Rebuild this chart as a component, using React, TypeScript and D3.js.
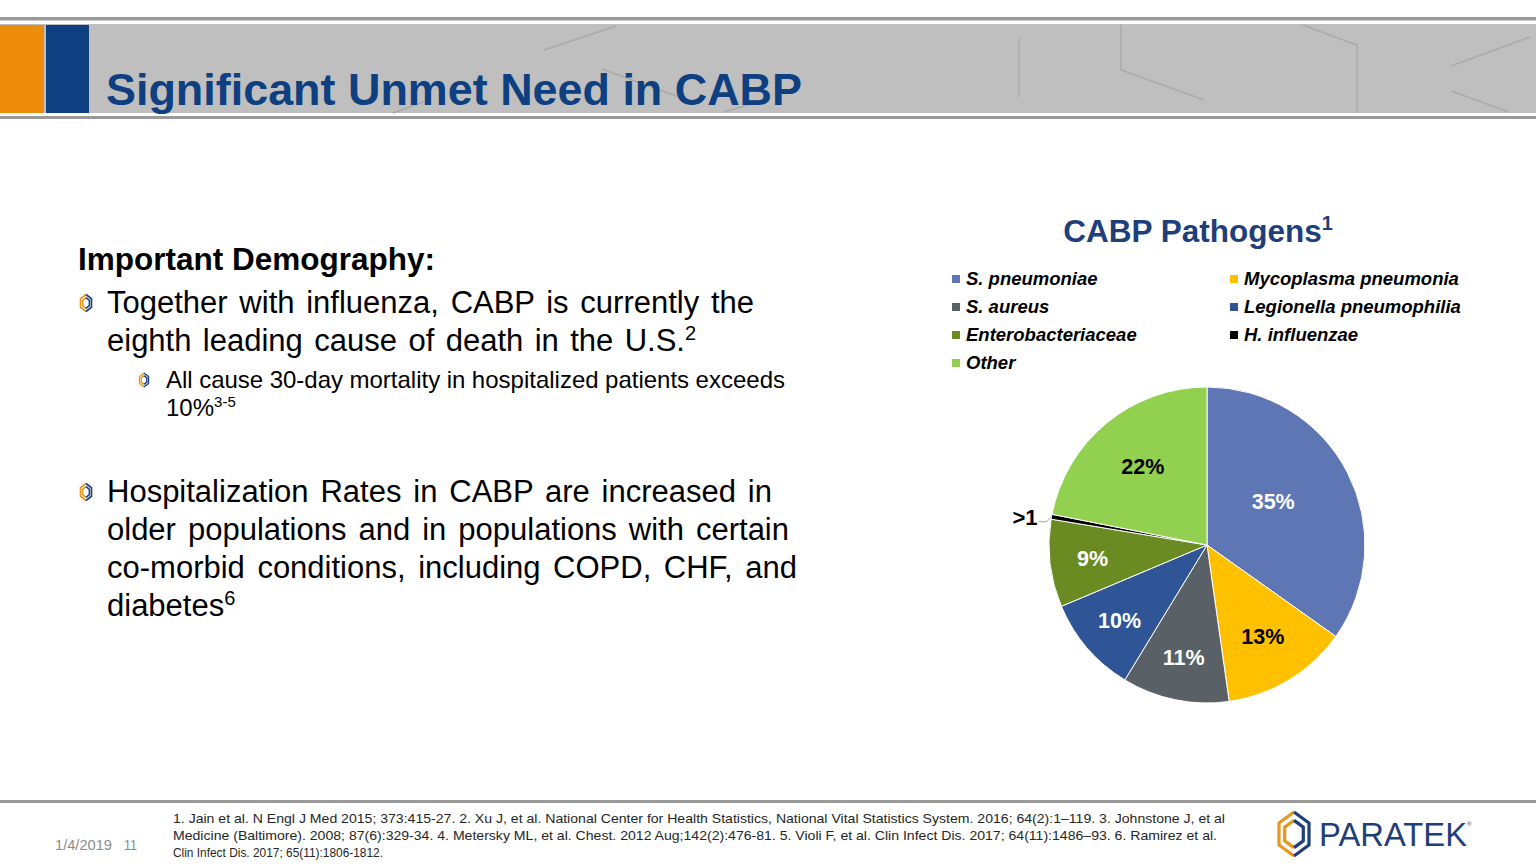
import React, { useLayoutEffect, useRef } from "react";
import * as d3 from "d3";

const categories = [
  "S. pneumoniae",
  "Mycoplasma pneumonia",
  "S. aureus",
  "Legionella pneumophilia",
  "Enterobacteriaceae",
  "H. influenzae",
  "Other",
];
const values = [35, 13, 11, 10, 9, 0.5, 22];
const sliceLabels = ["35%", "13%", "11%", "10%", "9%", ">1", "22%"];
const colors = ["#5E76B4", "#FFC000", "#5A6166", "#2F5597", "#6A8B22", "#000000", "#92D050"];
const labelColors = ["#fff", "#000", "#fff", "#fff", "#fff", "#000", "#000"];

const references = [
  "1. Jain et al. N Engl J Med 2015; 373:415-27.  2. Xu J, et al. National Center for Health Statistics, National Vital Statistics System. 2016; 64(2):1\u2013119. 3. Johnstone J, et al",
  "Medicine (Baltimore). 2008; 87(6):329-34. 4. Metersky ML, et al. Chest. 2012 Aug;142(2):476-81. 5. Violi F, et al. Clin Infect Dis. 2017; 64(11):1486\u201393. 6. Ramirez et al.",
  "Clin Infect Dis. 2017; 65(11):1806-1812.",
];

const headerLines = [
  [[544, 50], [616, 26]],
  [[602, 69], [679, 97]],
  [[393, 113], [429, 100]],
  [[724, 112], [765, 100]],
  [[1019, 38], [1019, 97]],
  [[1121, 25], [1121, 70], [1204, 100]],
  [[1303, 25], [1357, 45], [1357, 113]],
  [[1451, 66], [1530, 37]],
  [[1451, 91], [1509, 112]],
];

const FONT = "Arial, 'Liberation Sans', Helvetica, sans-serif";

function HexIcon({ cx, cy, w, h, sw }: { cx: number; cy: number; w: number; h: number; sw: number }) {
  const half = (ww: number, hh: number, side: number) => {
    const x0 = cx;
    const xs = cx + side * ww / 2;
    return `M${x0},${cy - hh / 2} L${xs},${cy - hh / 4} L${xs},${cy + hh / 4} L${x0},${cy + hh / 2}`;
  };
  const iw = w * 0.62;
  const ih = h * 0.62;
  return (
    <g fill="none" strokeLinejoin="miter" strokeLinecap="butt">
      <path d={half(w, h, -1)} stroke="#E8961E" strokeWidth={sw} />
      <path d={half(iw, ih, -1)} stroke="#E8961E" strokeWidth={sw} />
      <path d={half(w, h, 1)} stroke="#1F3F7A" strokeWidth={sw} />
      <path d={half(iw, ih, 1)} stroke="#1F3F7A" strokeWidth={sw} />
    </g>
  );
}

function JText({
  x,
  y,
  size,
  width,
  text,
  sup,
  supSize,
}: {
  x: number;
  y: number;
  size: number;
  width?: number;
  text: string;
  sup?: string;
  supSize?: number;
}) {
  const tRef = useRef<SVGTextElement>(null);
  const mRef = useRef<SVGTSpanElement>(null);
  useLayoutEffect(() => {
    if (!width || !tRef.current || !mRef.current) return;
    const len = mRef.current.getComputedTextLength();
    const spaces = (text.match(/ /g) || []).length;
    if (spaces > 0) {
      tRef.current.setAttribute("word-spacing", String((width - len) / spaces));
    }
  }, [width, text]);
  return (
    <text ref={tRef} x={x} y={y} fontSize={size} fill="#000">
      <tspan ref={mRef}>{text}</tspan>
      {sup && (
        <tspan fontSize={supSize} dy={-size * 0.36}>
          {sup}
        </tspan>
      )}
    </text>
  );
}

export default function App() {
  const W = 1536;
  const H = 864;
  const cx = 1207;
  const cy = 545;
  const R = 158;

  const pie = d3
    .pie<number>()
    .sort(null)
    .value((d) => d)
    .startAngle(0)
    .endAngle(2 * Math.PI);
  const arcs = pie(values);
  const arc = d3.arc<d3.PieArcDatum<number>>().innerRadius(0).outerRadius(R);

  const labelPos = (d: d3.PieArcDatum<number>) => {
    const a = (d.startAngle + d.endAngle) / 2 - (d.data >= 30 ? 0.1 : 0);
    const f = d.data >= 30 ? 0.5 : d.data >= 20 ? 0.64 : d.data >= 12 ? 0.68 : 0.73;
    return [Math.sin(a) * R * f, -Math.cos(a) * R * f];
  };

  const legendX = [952, 1230];
  const legendY0 = 279;
  const legendDy = 28;

  const bodySize = 31;

  return (
    <svg
      width={W}
      height={H}
      viewBox={`0 0 ${W} ${H}`}
      style={{ position: "absolute", left: 0, top: 0, background: "#fff" }}
      fontFamily={FONT}
    >
      {/* Header */}
      <rect x={0} y={17} width={W} height={3.5} fill="#999" />
      <rect x={0} y={24} width={W} height={89} fill="#BFBFBF" />
      <rect x={0} y={116} width={W} height={3} fill="#999" />
      {headerLines.map((pts, i) => (
        <polyline
          key={i}
          points={pts.map((p) => p.join(",")).join(" ")}
          fill="none"
          stroke="#A9A9A9"
          strokeWidth={1.4}
        />
      ))}
      <rect x={0} y={25} width={44} height={88} fill="#EC8C0A" />
      <rect x={46} y={25} width={43} height={88} fill="#0E3F80" />
      <text
        x={106}
        y={105}
        fontSize={45}
        fontWeight="bold"
        fill="#0E3F80"
        textLength={696}
        lengthAdjust="spacingAndGlyphs"
      >
        Significant Unmet Need in CABP
      </text>

      {/* Left text */}
      <text x={78} y={270} fontSize={31.5} fontWeight="bold" fill="#000">
        Important Demography:
      </text>
      <HexIcon cx={86} cy={303} w={11} h={17} sw={1.6} />
      <JText x={107} y={313} size={bodySize} width={647} text="Together with influenza, CABP is currently the" />
      <JText
        x={107}
        y={351}
        size={bodySize}
        width={578}
        text="eighth leading cause of death in the U.S."
        sup="2"
        supSize={20}
      />
      <HexIcon cx={144} cy={380} w={9} h={14} sw={1.4} />
      <JText
        x={166}
        y={388}
        size={24}
        width={619}
        text="All cause 30-day mortality in hospitalized patients exceeds"
      />
      <JText x={166} y={416} size={24} text="10%" sup="3-5" supSize={15} />
      <HexIcon cx={86} cy={492} w={11} h={17} sw={1.6} />
      <JText x={107} y={502} size={bodySize} width={665} text="Hospitalization Rates in CABP are increased in" />
      <JText x={107} y={540} size={bodySize} width={682} text="older populations and in populations with certain" />
      <JText x={107} y={578} size={bodySize} width={690} text="co-morbid conditions, including COPD, CHF, and" />
      <JText x={107} y={616} size={bodySize} text="diabetes" sup="6" supSize={20} />

      {/* Chart title */}
      <text x={1198} y={242} fontSize={31.5} fontWeight="bold" fill="#1F3F7A" textAnchor="middle">
        CABP Pathogens
        <tspan fontSize={20} dy={-12}>1</tspan>
      </text>

      {/* Legend */}
      {categories.map((c, i) => {
        const col = i % 2;
        const row = Math.floor(i / 2);
        const x = legendX[col];
        const y = legendY0 + row * legendDy;
        return (
          <g key={c}>
            <rect x={x} y={y - 4} width={8} height={8} fill={colors[i]} />
            <text
              x={x + 14}
              y={y}
              dy="0.35em"
              fontSize={18.5}
              fontWeight="bold"
              fontStyle="italic"
              fill="#000"
            >
              {c}
            </text>
          </g>
        );
      })}

      {/* Pie */}
      <g transform={`translate(${cx},${cy})`}>
        {arcs.map((d, i) => (
          <path key={i} d={arc(d) || ""} fill={colors[i]} stroke="#fff" strokeWidth={1} />
        ))}
        {arcs.map((d, i) => {
          if (d.data < 1) {
            const a = (d.startAngle + d.endAngle) / 2;
            const ex = Math.sin(a) * R;
            const ey = -Math.cos(a) * R;
            return (
              <g key={"l" + i}>
                <polyline
                  points={`${ex},${ey} ${ex - 5},${ey + 5} ${ex - 13},${ey + 5}`}
                  fill="none"
                  stroke="#A6A6A6"
                  strokeWidth={1}
                />
                <text
                  x={ex - 14}
                  y={ey + 1}
                  dy="0.35em"
                  textAnchor="end"
                  fontSize={22}
                  fontWeight="bold"
                  fill={labelColors[i]}
                >
                  {sliceLabels[i]}
                </text>
              </g>
            );
          }
          const [lx, ly] = labelPos(d);
          return (
            <text
              key={"l" + i}
              x={lx}
              y={ly}
              dy="0.35em"
              textAnchor="middle"
              fontSize={21.5}
              fontWeight="bold"
              fill={labelColors[i]}
            >
              {sliceLabels[i]}
            </text>
          );
        })}
      </g>

      {/* Footer */}
      <rect x={0} y={800} width={W} height={3} fill="#999" />
      <text x={55} y={850} fontSize={14} fill="#8C8C8C" textLength={57} lengthAdjust="spacingAndGlyphs">
        1/4/2019
      </text>
      <text x={124} y={850} fontSize={14} fill="#8C8C8C" textLength={13} lengthAdjust="spacingAndGlyphs">
        11
      </text>
      {references.map((r, i) => (
        <text
          key={i}
          x={173}
          y={823 + i * 17}
          fontSize={13.5}
          fill="#262626"
          textLength={[1052, 1044, 210][i]}
          lengthAdjust="spacingAndGlyphs"
        >
          {r}
        </text>
      ))}

      {/* Logo */}
      <HexIcon cx={1294} cy={834} w={30} h={44} sw={3.2} />
      <text x={1319} y={846} fontSize={33} fill="#1F3F7A" textLength={148} lengthAdjust="spacingAndGlyphs">
        PARATEK
      </text>
      <text x={1467} y={826} fontSize={6} fill="#1F3F7A">
        ®
      </text>
    </svg>
  );
}
